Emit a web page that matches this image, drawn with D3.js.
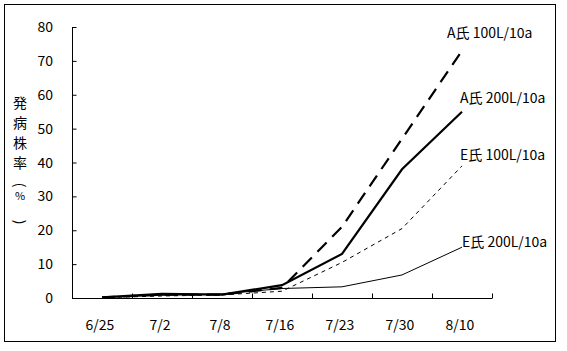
<!DOCTYPE html>
<html>
<head>
<meta charset="utf-8">
<script src="https://cdn.jsdelivr.net/npm/d3@7"></script>
<style>
  body { margin: 0; background: #fff; }
  text { font-family: "Noto Sans CJK JP", "DejaVu Sans", sans-serif; fill: #000; }
</style>
</head>
<body>
<script>
// data
var dates = ["6/25", "7/2", "7/8", "7/16", "7/23", "7/30", "8/10"];
var a100 = [0.2, 1.0, 1.0, 3.0, 21, 47, 73];
var a200 = [0.2, 1.2, 1.0, 3.8, 13, 38, 55];
var e100 = [0.1, 0.6, 0.9, 2.0, 10.5, 20.5, 39];
var e200 = [0.2, 0.8, 1.2, 2.8, 3.3, 6.8, 15];
var seriesNames = ["A氏 100L/10a", "A氏 200L/10a", "E氏 100L/10a", "E氏 200L/10a"];
var yTicks = [0, 10, 20, 30, 40, 50, 60, 70, 80];
var yTitle = ["発", "病", "株", "率", "(", "%", ")"];

var series = [
  {name: seriesNames[0], values: a100, width: 2.2, dash: "13,8", lx: 447, ly: 33},
  {name: seriesNames[1], values: a200, width: 2.2, dash: null, lx: 460, ly: 98},
  {name: seriesNames[2], values: e100, width: 1, dash: "4,4", lx: 460, ly: 155},
  {name: seriesNames[3], values: e200, width: 1, dash: null, lx: 462, ly: 242}
];

var W = 567, H = 351;
var svg = d3.select("body").append("svg")
    .attr("width", W)
    .attr("height", H);

// outer frame
svg.append("rect")
    .attr("x", 4.5).attr("y", 4.5)
    .attr("width", 551).attr("height", 337)
    .attr("fill", "none")
    .attr("stroke", "#000")
    .attr("stroke-width", 1);

var pLeft = 72, pRight = 492, pTop = 27, pBottom = 298;

var x = d3.scaleBand().domain(dates).range([pLeft, pRight]);
var y = d3.scaleLinear().domain([0, 80]).range([pBottom, pTop]);

// y axis, ticks inside
var yAxis = svg.append("g")
    .attr("transform", "translate(" + (pLeft + 0.5) + ",0)")
    .call(d3.axisRight(y).tickValues(yTicks).tickSize(4).tickFormat(""));
yAxis.select(".domain").attr("d", "M0," + pTop + "V" + pBottom);

svg.selectAll(".ylab")
    .data(yTicks)
    .enter()
    .append("text")
    .attr("x", 53)
    .attr("y", d => y(d))
    .attr("dy", "0.36em")
    .attr("text-anchor", "end")
    .style("font-size", "14px")
    .text(d => d);

// x axis, ticks between categories pointing up
var xg = svg.append("g")
    .attr("transform", "translate(0," + (pBottom + 0.5) + ")");
xg.append("path")
    .attr("d", "M" + pLeft + ",0H" + pRight)
    .attr("stroke", "#000");
xg.selectAll(".xt")
    .data(dates)
    .enter()
    .append("line")
    .attr("x1", d => Math.round(x(d) + x.bandwidth()) + 0.5)
    .attr("x2", d => Math.round(x(d) + x.bandwidth()) + 0.5)
    .attr("y1", 0).attr("y2", -5)
    .attr("stroke", "#000");

svg.selectAll(".xlab")
    .data(dates)
    .enter()
    .append("text")
    .attr("x", d => x(d) + x.bandwidth() / 2 - 2)
    .attr("y", 325)
    .attr("dy", "0.36em")
    .attr("text-anchor", "middle")
    .style("font-size", "14px")
    .text(d => d);

// y title, one glyph at a time, brackets turned for vertical writing
var titleY = [103, 123, 143, 163, 185, 196, 222];
svg.selectAll(".ytitle")
    .data(yTitle)
    .enter()
    .append("text")
    .attr("transform", (d, i) => "translate(20," + titleY[i] + ")" +
        ((d == "(" || d == ")") ? " rotate(90)" : ""))
    .attr("dy", "0.36em")
    .attr("text-anchor", "middle")
    .style("font-size", d => d == "%" ? "11px" : "14px")
    .text(d => d);

var line = d3.line()
    .x((d, i) => x(dates[i]) + x.bandwidth() / 2)
    .y(d => y(d));

series.forEach(function(s) {
  svg.append("path")
      .datum(s.values)
      .attr("d", line)
      .attr("fill", "none")
      .attr("stroke", "#000")
      .attr("stroke-width", s.width)
      .attr("stroke-dasharray", s.dash);

  svg.append("text")
      .attr("x", s.lx)
      .attr("y", s.ly)
      .attr("dy", "0.36em")
      .style("font-size", "14px")
      .text(s.name);
});
</script>
</body>
</html>
